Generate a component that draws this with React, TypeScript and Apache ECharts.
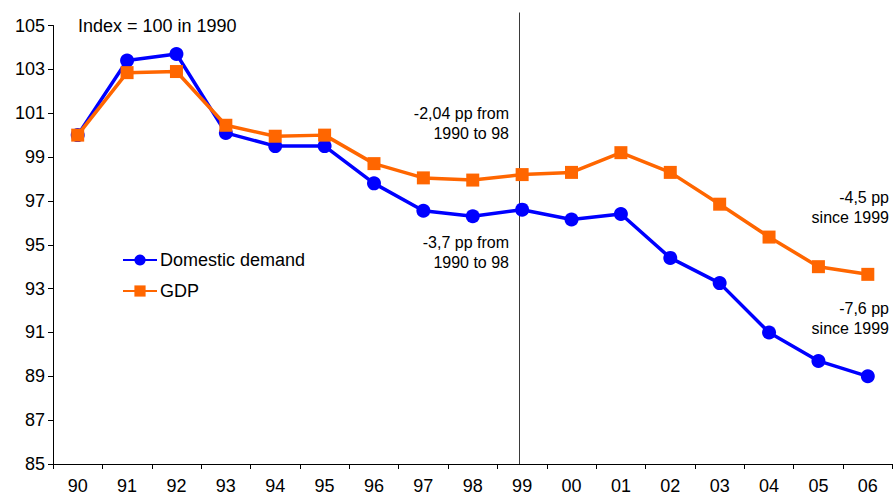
import React, { useEffect, useRef } from "react";
import * as echarts from "echarts";

const categories = ["90", "91", "92", "93", "94", "95", "96", "97", "98", "99", "00", "01", "02", "03", "04", "05", "06"];
const domesticDemand = [100, 103.4, 103.7, 100.1, 99.5, 99.5, 97.8, 96.55, 96.3, 96.6, 96.15, 96.4, 94.4, 93.25, 91.0, 89.7, 89.0];
const gdp = [100, 102.85, 102.9, 100.45, 99.95, 100.0, 98.7, 98.05, 97.95, 98.2, 98.3, 99.2, 98.3, 96.85, 95.35, 94.0, 93.65];
const yMin = 85;
const yMax = 105;
const yInterval = 2;
const breakYear = "99";

const FONT = "Liberation Sans, Arial, sans-serif";

export default function App() {
  const ref = useRef<HTMLDivElement>(null);
  useEffect(() => {
    if (!ref.current) return;
    const chart = echarts.init(ref.current, undefined, { renderer: "svg" });
    const txt = (x: number, y: number, lines: string, align: string = "right", size = 16) => ({
      type: "text",
      x,
      y,
      style: { text: lines, fill: "#000", font: `${size}px ${FONT}`, align, verticalAlign: "middle", lineHeight: 20 },
    });
    const texts = [
      txt(78, 26, "Index = 100 in 1990", "left", 18),
      txt(509, 123, "-2,04 pp from\n1990 to 98"),
      txt(509, 252, "-3,7 pp from\n1990 to 98"),
      txt(889, 207, "-4,5 pp\nsince 1999"),
      txt(889, 318, "-7,6 pp\nsince 1999"),
    ];
    chart.setOption({
      animation: false,
      backgroundColor: "#fff",
      grid: { left: 53, right: 0.5, top: 25.5, bottom: 36, containLabel: false, outerBoundsMode: "none" },
      legend: {
        orient: "vertical",
        left: 122,
        top: 251,
        padding: 0,
        itemWidth: 34,
        itemHeight: 14,
        itemGap: 13,
        textStyle: { fontSize: 18, color: "#000", fontFamily: FONT, padding: [0, 0, 0, -2] },
        data: ["Domestic demand", "GDP"],
      },
      xAxis: {
        type: "category",
        data: categories,
        boundaryGap: true,
        axisLine: { lineStyle: { color: "#000", width: 1 } },
        axisTick: { show: true, length: 5, inside: false, lineStyle: { color: "#000" } },
        axisLabel: { color: "#000", fontSize: 18, fontFamily: FONT, margin: 13 },
        splitLine: { show: false },
      },
      yAxis: {
        type: "value",
        min: yMin,
        max: yMax,
        interval: yInterval,
        axisLine: { show: true, lineStyle: { color: "#000", width: 1 } },
        axisTick: { show: true, length: 5, lineStyle: { color: "#000" } },
        axisLabel: { color: "#000", fontSize: 18, fontFamily: FONT, margin: 8 },
        splitLine: { show: false },
      },
      series: [
        {
          name: "Domestic demand",
          type: "line",
          data: domesticDemand,
          symbol: "circle",
          symbolSize: 14,
          lineStyle: { color: "#0000FF", width: 3.5 },
          itemStyle: { color: "#0000FF" },
          z: 3,
        },
        {
          name: "GDP",
          type: "line",
          data: gdp,
          symbol: "rect",
          symbolSize: 13,
          lineStyle: { color: "#FF6600", width: 3.5 },
          itemStyle: { color: "#FF6600" },
          z: 4,
        },
      ],
      graphic: texts,
    });
    const bx = chart.convertToPixel({ xAxisIndex: 0 }, breakYear) as number;
    const by = chart.convertToPixel({ yAxisIndex: 0 }, yMin) as number;
    const topY = (chart.convertToPixel({ yAxisIndex: 0 }, yMax) as number) - 13;
    const lx = Math.round(bx - 3) + 0.5;
    chart.setOption({
      graphic: [
        ...texts,
        {
          type: "line",
          z: 2,
          shape: { x1: lx, y1: topY, x2: lx, y2: by },
          style: { stroke: "#3a3a3a", lineWidth: 1 },
        },
      ],
    });
    return () => chart.dispose();
  }, []);
  return <div ref={ref} style={{ position: "fixed", left: 0, top: 0, width: 893, height: 500 }} />;
}
